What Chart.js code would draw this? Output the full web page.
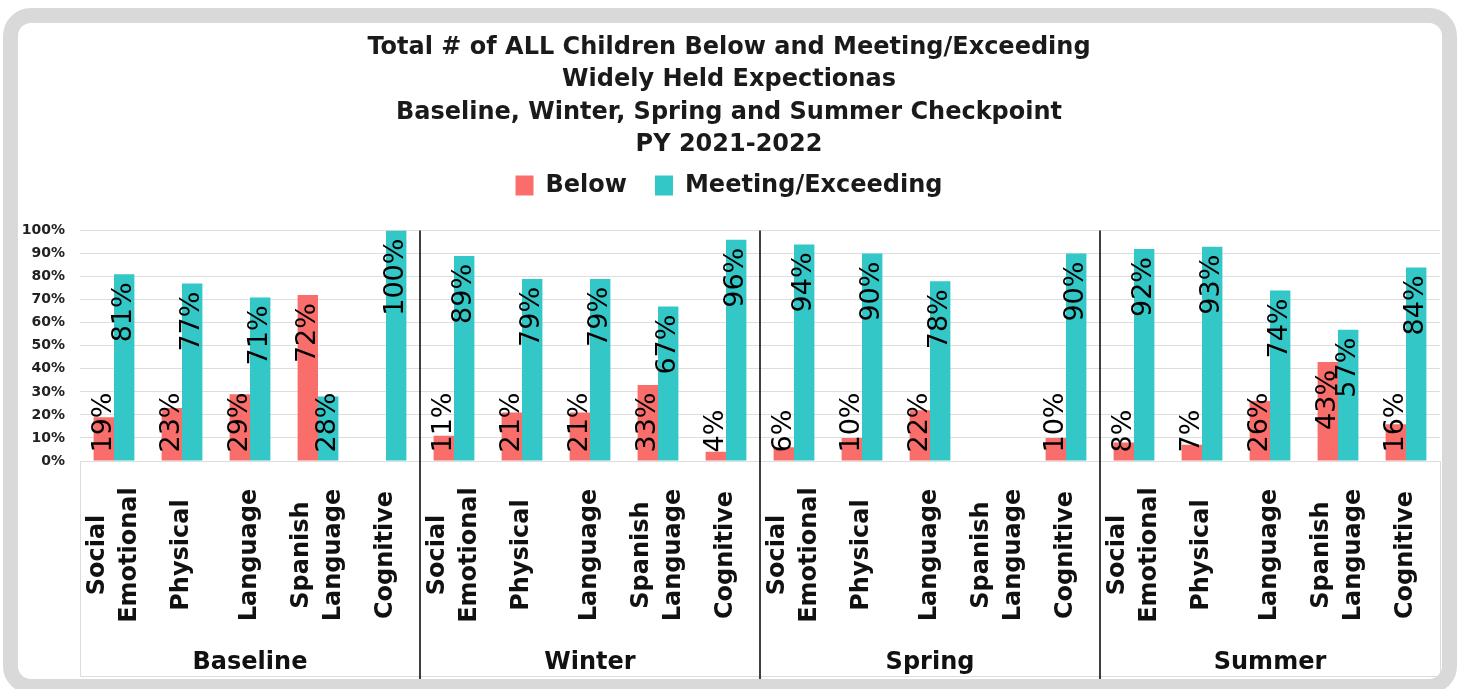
<!DOCTYPE html>
<html>
<head>
<meta charset="utf-8">
<script src="https://cdn.jsdelivr.net/npm/chart.js@4.4.1/dist/chart.umd.min.js"></script>
<style>
  body { margin: 0; background: #fff; width: 1462px; height: 689px; overflow: hidden; }
  #frame {
    position: absolute; left: 3px; top: 8px;
    width: 1424px; height: 656px;
    border: 15px solid #d9d9d9; border-radius: 28px;
    background: #fff; overflow: hidden;
  }
  canvas { display: block; }
</style>
</head>
<body>
<div id="frame"><canvas id="chart" width="1424" height="656"></canvas></div>
<script>
const titleLines = [
  "Total # of ALL Children Below and Meeting/Exceeding",
  "Widely Held Expectionas",
  "Baseline, Winter, Spring and Summer Checkpoint",
  "PY 2021-2022",
];
const periods = ["Baseline", "Winter", "Spring", "Summer"];
const skills = [["Social", "Emotional"], ["Physical"], ["Language"], ["Spanish", "Language"], ["Cognitive"]];
const yTicks = [0, 10, 20, 30, 40, 50, 60, 70, 80, 90, 100];

// one value per skill, period after period
const below = [19, 23, 29, 72, null, 11, 21, 21, 33, 4, 6, 10, 22, null, 10, 8, 7, 26, 43, 16];
const meeting = [81, 77, 71, 28, 100, 89, 79, 79, 67, 96, 94, 90, 78, null, 90, 92, 93, 74, 57, 84];

const RED = "#f96e6a";
const TEAL = "#33c7c7";
const FONT = "DejaVu Sans";

const labels = periods.flatMap(() => skills);

// extra room under the legend
const legendGap = {
  id: "legendGap",
  beforeInit(chart) {
    const fitLegend = chart.legend.fit;
    chart.legend.fit = function () {
      fitLegend.bind(chart.legend)();
      this.height += 23;
    };
  },
};

// value labels, category labels, period labels and dividers
const decorations = {
  id: "decorations",
  afterDatasetsDraw(chart) {
    const { ctx, chartArea, scales } = chart;
    const x = scales.x;
    ctx.save();

    // value labels, rotated, inside the bar end
    ctx.font = "27px '" + FONT + "'";
    ctx.fillStyle = "#000";
    ctx.textAlign = "left";
    ctx.textBaseline = "middle";
    chart.data.datasets.forEach((ds, i) => {
      chart.getDatasetMeta(i).data.forEach((bar, j) => {
        const v = ds.data[j];
        if (v === null) return;
        const text = v + "%";
        const len = ctx.measureText(text).width;
        let start = bar.y + 8 + len;
        if (start > bar.base - 8) start = bar.base - 8;
        ctx.save();
        ctx.translate(bar.x, start);
        ctx.rotate(-Math.PI / 2);
        ctx.fillText(text, 0, 0);
        ctx.restore();
      });
    });

    // box under the axis
    const boxBottom = chartArea.bottom + 215;
    ctx.strokeStyle = "#dcdcdc";
    ctx.lineWidth = 1;
    ctx.beginPath();
    ctx.moveTo(chartArea.left + 0.5, chartArea.bottom);
    ctx.lineTo(chartArea.left + 0.5, boxBottom + 0.5);
    ctx.lineTo(chartArea.right + 0.5, boxBottom + 0.5);
    ctx.lineTo(chartArea.right + 0.5, chartArea.bottom);
    ctx.stroke();

    // skill names
    ctx.font = "bold 24px '" + FONT + "'";
    ctx.fillStyle = "#111";
    ctx.textAlign = "center";
    labels.forEach((lines, i) => {
      const px = x.getPixelForValue(i);
      lines.forEach((line, k) => {
        ctx.save();
        ctx.translate(px + (k - (lines.length - 1) / 2) * 32, chartArea.bottom + 94);
        ctx.rotate(-Math.PI / 2);
        ctx.fillText(line, 0, 0);
        ctx.restore();
      });
    });

    // period names
    const n = skills.length;
    periods.forEach((p, g) => {
      const cx = (x.getPixelForValue(g * n) + x.getPixelForValue(g * n + n - 1)) / 2;
      ctx.fillText(p, cx, chartArea.bottom + 202);
    });

    // black dividers between periods
    ctx.strokeStyle = "#000";
    ctx.lineWidth = 1.5;
    for (let g = 1; g < periods.length; g++) {
      const dx = (x.getPixelForValue(g * n - 1) + x.getPixelForValue(g * n)) / 2;
      ctx.beginPath();
      ctx.moveTo(dx, chartArea.top);
      ctx.lineTo(dx, chart.height);
      ctx.stroke();
    }
    ctx.restore();
  },
};

Chart.defaults.font.family = FONT;
Chart.defaults.color = "#1a1a1a";

new Chart(document.getElementById("chart"), {
  type: "bar",
  data: {
    labels: labels,
    datasets: [
      { label: "Below", data: below, backgroundColor: RED, borderWidth: 0 },
      { label: "Meeting/Exceeding", data: meeting, backgroundColor: TEAL, borderWidth: 0 },
    ],
  },
  options: {
    responsive: false,
    animation: false,
    categoryPercentage: 0.6,
    barPercentage: 1.0,
    layout: { padding: { left: 0, right: 2, top: 0, bottom: 0 } },
    plugins: {
      title: {
        display: true,
        text: titleLines,
        font: { size: 24, weight: "bold", lineHeight: 1.36 },
        color: "#1a1a1a",
        padding: { top: 8, bottom: -16 },
      },
      legend: {
        position: "top",
        labels: {
          boxWidth: 18,
          boxHeight: 20,
          padding: 28,
          font: { size: 24, weight: "bold" },
          color: "#1a1a1a",
        },
      },
      tooltip: { enabled: false },
    },
    scales: {
      x: {
        grid: { display: false },
        border: { display: false },
        ticks: { display: false },
        afterFit(scale) { scale.height = 218; },
      },
      y: {
        min: 0,
        max: 100,
        afterBuildTicks(scale) { scale.ticks = yTicks.map((v) => ({ value: v })); },
        afterFit(scale) { scale.width = 62; },
        grid: { color: "#dedede", lineWidth: 1, drawTicks: false },
        border: { display: false },
        ticks: {
          padding: 15,
          color: "#222",
          font: { size: 14, weight: "bold" },
          callback: (v) => v + "%",
        },
      },
    },
  },
  plugins: [legendGap, decorations],
});
</script>
</body>
</html>
